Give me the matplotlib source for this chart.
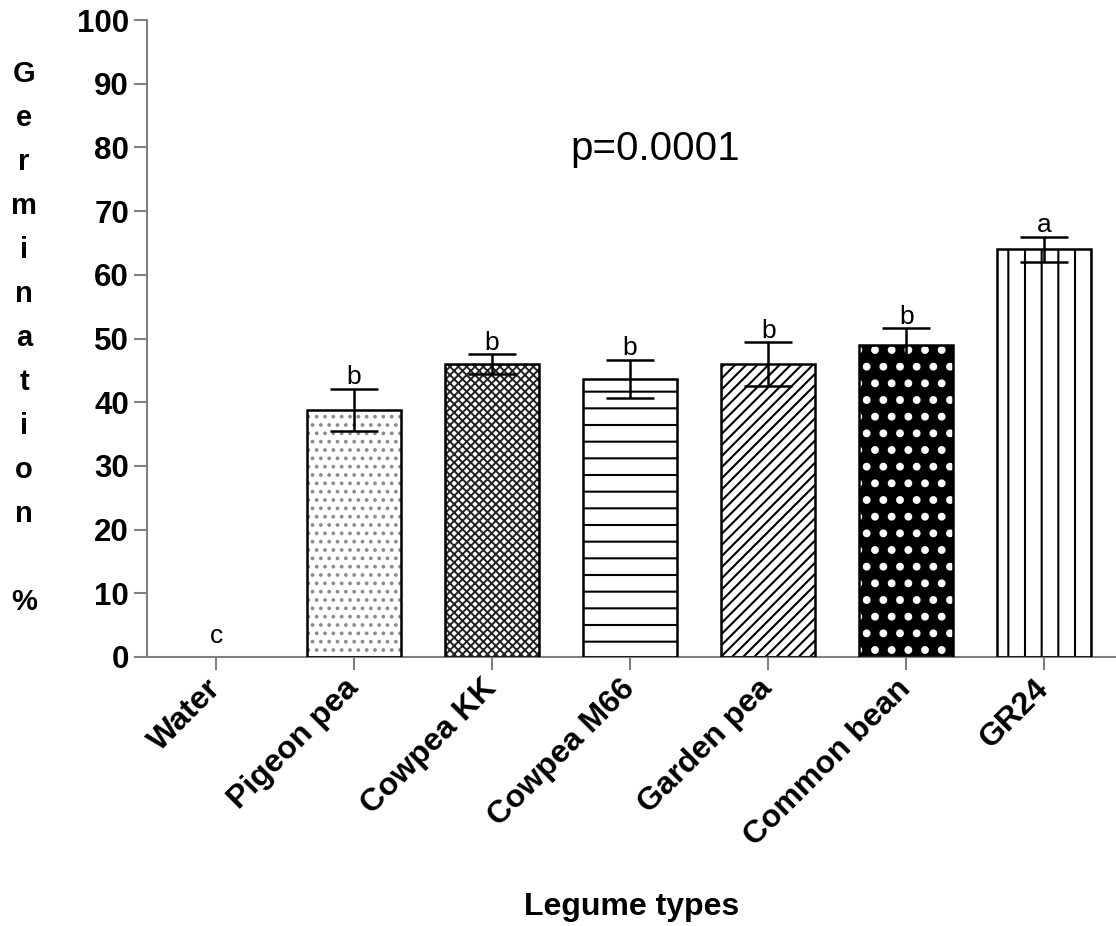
import matplotlib
matplotlib.use('Agg')
import matplotlib.pyplot as plt
import numpy as np

# ---- data ----
categories = ['Water', 'Pigeon pea', 'Cowpea KK', 'Cowpea M66', 'Garden pea', 'Common bean', 'GR24']
germination = [0.0, 38.8, 46.0, 43.7, 46.0, 49.0, 64.0]
sem = [0.0, 3.3, 1.5, 3.0, 3.4, 2.6, 2.0]
letters = ['c', 'b', 'b', 'b', 'b', 'b', 'a']
yticks = list(range(0, 101, 10))
p_text = 'p=0.0001'
ylabel_chars = list('Germination') + ['', '%']
xlabel = 'Legume types'

# ---- styles ----
hatches = [None, '..', 'xxxx', '-', '///', '.', '|']
faces = ['white', 'white', 'white', 'white', 'white', 'black', 'white']
hatch_colors = ['black', '#8c8c8c', '#222222', 'black', 'black', 'white', 'black']
hatch_lws = [1.5, 1.5, 1.4, 1.5, 1.5, 3.2, 1.5]

plt.rcParams['font.family'] = ['Liberation Sans', 'DejaVu Sans']
plt.rcParams['hatch.linewidth'] = 1.5

W_PX, H_PX = 1116, 926
fig = plt.figure(figsize=(W_PX / 100, H_PX / 100), dpi=100)
fig.patch.set_facecolor('white')
ax = fig.add_axes([147 / W_PX, 1 - 657 / H_PX, 1 - 147 / W_PX, 637 / H_PX])

x = np.arange(len(categories))
bw = 0.68
for i in range(len(categories)):
    if germination[i] <= 0:
        continue
    bars = ax.bar(x[i], germination[i], bw, color=faces[i], edgecolor=hatch_colors[i],
                  hatch=hatches[i], linewidth=0, zorder=2)
    for b in bars:
        if hasattr(b, 'set_hatch_linewidth'):
            b.set_hatch_linewidth(hatch_lws[i])
    ax.bar(x[i], germination[i], bw, fill=False, edgecolor='black',
           linewidth=1.8, zorder=3)

g = np.array(germination)
e = np.array(sem)
mask = e > 0
ax.errorbar(x[mask], g[mask], yerr=e[mask], fmt='none', ecolor='black',
            elinewidth=1.8, capsize=17, capthick=1.8, zorder=4)

for i in range(len(categories)):
    ytxt = max(g[i] + e[i] + 0.7, 2.2)
    ax.text(x[i], ytxt, letters[i], ha='center', va='baseline', fontsize=19)

ax.text(3.18, 78, p_text, ha='center', va='baseline', fontsize=29)

ax.set_xlim(-0.5, 6.52)
ax.set_ylim(0, 100)
ax.set_yticks(yticks)
ax.set_yticklabels([str(t) for t in yticks], fontsize=22.5, fontweight='bold')
ax.set_xticks(x)
ax.set_xticklabels(categories, rotation=45, ha='right', va='center',
                   rotation_mode='anchor', fontsize=23, fontweight='bold')
ax.tick_params(axis='y', length=9.5, width=1.5, color='#808080', pad=3.5)
ax.tick_params(axis='x', length=9.5, width=1.5, color='#808080', pad=10)

for s in ['top', 'right']:
    ax.spines[s].set_visible(False)
for s in ['left', 'bottom']:
    ax.spines[s].set_color('#808080')
    ax.spines[s].set_linewidth(1.5)

for k, ch in enumerate(ylabel_chars):
    fig.text(24 / W_PX, 1 - (82 + 44 * k) / H_PX, ch, ha='center', va='baseline',
             fontsize=21, fontweight='bold')

fig.text(632 / W_PX, 1 - 915 / H_PX, xlabel, ha='center', va='baseline',
         fontsize=23, fontweight='bold')

fig.savefig('out.png', dpi=100, facecolor='white')
